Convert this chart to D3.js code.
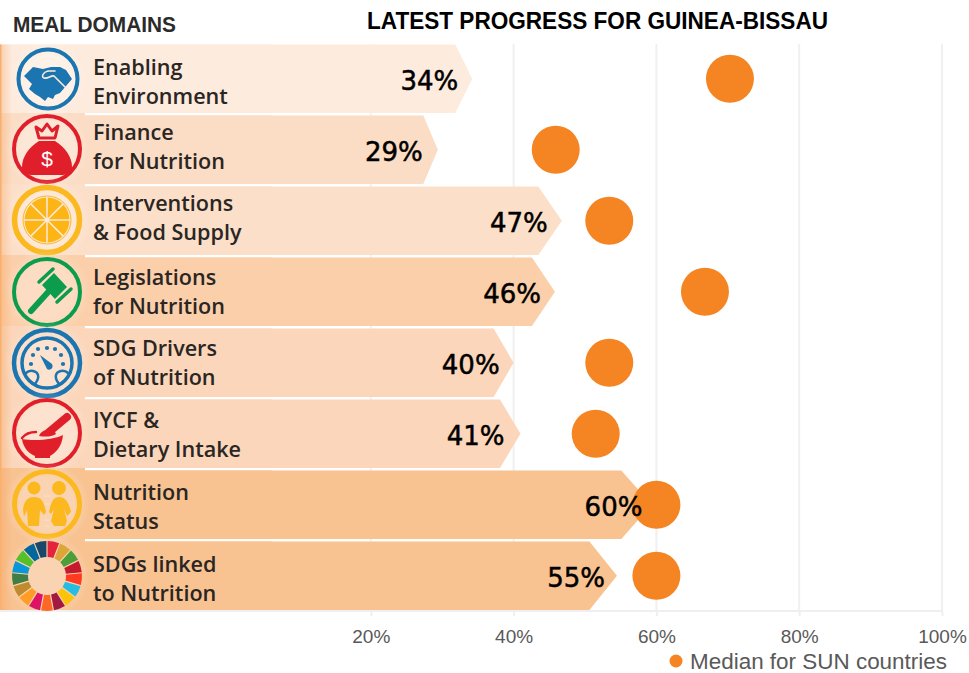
<!DOCTYPE html>
<html>
<head>
<meta charset="utf-8">
<style>
  html, body { margin: 0; padding: 0; background: #fff; }
  svg { display: block; }
  .title { font-family: "Liberation Sans", sans-serif; font-weight: 700; }
  .domain-label { font-family: "Open Sans", sans-serif; font-weight: 600; font-size: 21.6px; fill: #2a2624; }
  .value-label { font-family: "DejaVu Sans", sans-serif; font-size: 26px; fill: #000; stroke: #000; stroke-width: 0.5px; }
  .axis text { font-family: "Liberation Sans", sans-serif; font-size: 19px; fill: #595959; }
  .axis path, .axis line { stroke: #efefef; stroke-width: 2px; }
</style>
</head>
<body>
<div id="chart"></div>
<script src="https://cdn.jsdelivr.net/npm/d3@7"></script>
<script>
// chart values
const domains = ["Enabling Environment", "Finance for Nutrition", "Interventions & Food Supply",
    "Legislations for Nutrition", "SDG Drivers of Nutrition", "IYCF & Dietary Intake",
    "Nutrition Status", "SDGs linked to Nutrition"];
const labelLines = [["Enabling", "Environment"], ["Finance", "for Nutrition"],
    ["Interventions", "& Food Supply"], ["Legislations", "for Nutrition"],
    ["SDG Drivers", "of Nutrition"], ["IYCF &", "Dietary Intake"],
    ["Nutrition", "Status"], ["SDGs linked", "to Nutrition"]];
const progress = [34, 29, 47, 46, 40, 41, 60, 55];
const median = [70.3, 45.9, 53.4, 66.8, 53.4, 51.5, 60, 60];
const axisTicks = [20, 40, 60, 80, 100];

// styling per row
const rowFill = ["#fdebdd", "#fbdcc4", "#fcdfc9", "#fbcfaa", "#fbd6ba", "#fbd6ba", "#f8c291", "#f8c291"];
const labelNudge = [-3.5, -10, -9.5, -7, -7, -6, -5, -4];
const valueNudge = [0, -1, 0, 0, 0, -2, 5, 2];
const sdgColors = ["#e5243b", "#dda63a", "#4c9f38", "#c5192d", "#ff3a21", "#26bde2", "#fcc30b", "#a21942",
    "#fd6925", "#dd1367", "#fd9d24", "#bf8b2e", "#3f7e44", "#0a97d9", "#56c02b", "#00689d", "#19486a"];
const DOT_COLOR = "#f58423";
const PANEL_W = 272, ICON_W = 85;

const width = 969, height = 673;
const svg = d3.select("#chart").append("svg").attr("width", width).attr("height", height);

const x = d3.scaleLinear().domain([0, 100]).range([228, 942]);
// the arrows in the original are stretched a bit and do not sit exactly on the grid
const arrowX = d3.scaleLinear().domain([0, 100]).range([238, 927]);
const y = d3.scaleBand().domain(domains).range([44.5, 610]).paddingInner(0.035);

const defs = svg.append("defs");
const edge = defs.append("linearGradient").attr("id", "edge");
edge.append("stop").attr("offset", 0).attr("stop-color", "#f79a4e").attr("stop-opacity", 0.35);
edge.append("stop").attr("offset", 1).attr("stop-color", "#f79a4e").attr("stop-opacity", 0);
const glow = defs.append("radialGradient").attr("id", "glow");
glow.append("stop").attr("offset", 0.6).attr("stop-color", "#fff").attr("stop-opacity", 0.3);
glow.append("stop").attr("offset", 1).attr("stop-color", "#fff").attr("stop-opacity", 0);

// gridlines and axis
svg.append("g").selectAll("line").data(axisTicks).join("line")
    .attr("x1", d => x(d)).attr("x2", d => x(d))
    .attr("y1", 44).attr("y2", 611)
    .attr("stroke", "#f0f0f0").attr("stroke-width", 2);

svg.append("line").attr("x1", 0).attr("x2", x(100))
    .attr("y1", 611).attr("y2", 611)
    .attr("stroke", "#efefef").attr("stroke-width", 2);

const axis = svg.append("g").attr("class", "axis")
    .attr("transform", "translate(0,611)")
    .call(d3.axisBottom(x).tickValues(axisTicks).tickFormat(d => d + "%").tickSize(5).tickPadding(14));
axis.select(".domain").remove();

// arrow bars
const rows = domains.map((d, i) => ({ name: d, value: progress[i], median: median[i], lines: labelLines[i], i }));

svg.append("g").selectAll("path").data(rows).join("path")
    .attr("fill", d => rowFill[d.i])
    .attr("d", d => {
        const tip = arrowX(d.value), head = d.value * 0.5;
        const top = y(d.name), bot = top + y.bandwidth();
        return d3.line()([[0, top], [tip - head, top], [tip, top + y.bandwidth() / 2], [tip - head, bot], [0, bot]]) + "Z";
    });

// left panel with icons and names
const panel = svg.append("g");
panel.selectAll(".cell").data(rows).join("rect").attr("class", "cell")
    .attr("x", ICON_W).attr("width", PANEL_W - ICON_W)
    .attr("y", d => y(d.name)).attr("height", y.bandwidth())
    .attr("fill", d => rowFill[d.i]);
panel.selectAll(".iconbg").data(rows).join("rect").attr("class", "iconbg")
    .attr("x", 0).attr("width", ICON_W)
    .attr("y", d => y(d.name) - (d.i ? y.step() - y.bandwidth() : 0))
    .attr("height", d => y.bandwidth() + (d.i ? y.step() - y.bandwidth() : 0))
    .attr("fill", d => rowFill[d.i]);
panel.append("rect").attr("x", 0).attr("y", 44.5).attr("width", 12).attr("height", 565.5).attr("fill", "url(#edge)");
panel.append("rect").attr("x", 0).attr("y", 44.5).attr("width", 1.5).attr("height", 565.5).attr("fill", "#f9b06f");

const labels = panel.selectAll(".domain-label").data(rows).join("text")
    .attr("class", "domain-label")
    .attr("x", 93)
    .attr("y", d => y(d.name) + y.bandwidth() / 2 + labelNudge[d.i]);
labels.selectAll("tspan").data(d => d.lines).join("tspan")
    .attr("x", 93).attr("dy", (d, i) => i ? 29 : 0).text(d => d);

// median dots
svg.append("g").selectAll("circle").data(rows).join("circle")
    .attr("cx", d => x(d.median))
    .attr("cy", d => y(d.name) + y.bandwidth() / 2)
    .attr("r", 24)
    .attr("fill", DOT_COLOR);

// value labels, the 60% label stays on top of its dot
svg.append("g").selectAll("text").data(rows).join("text")
    .attr("class", "value-label")
    .attr("text-anchor", "end")
    .attr("x", d => arrowX(d.value) - 14 + valueNudge[d.i])
    .attr("y", d => y(d.name) + y.bandwidth() / 2 + 11.5)
    .text(d => d.value + "%");

// titles
svg.append("text").attr("class", "title").attr("x", 13).attr("y", 32.3)
    .attr("font-size", 21.5).attr("fill", "#2b2b2b")
    .attr("textLength", 163).attr("lengthAdjust", "spacingAndGlyphs").text("MEAL DOMAINS");
svg.append("text").attr("class", "title").attr("x", 367).attr("y", 28.5)
    .attr("font-size", 23).attr("fill", "#000")
    .attr("textLength", 461).attr("lengthAdjust", "spacingAndGlyphs").text("LATEST PROGRESS FOR GUINEA-BISSAU");

// legend
svg.append("circle").attr("cx", 676).attr("cy", 661).attr("r", 6.5).attr("fill", DOT_COLOR);
svg.append("text").attr("class", "title").attr("x", 690).attr("y", 668.5)
    .style("font-weight", 400).attr("font-size", 21.5).attr("fill", "#595959")
    .attr("textLength", 257).attr("lengthAdjust", "spacingAndGlyphs").text("Median for SUN countries");

// icons, drawn in a local frame around each circle centre
const BLUE = "#1b75b0", RED = "#e01f2b", YELLOW = "#fbb91f", GREEN = "#0c9c4e";
const iconPos = [[48, 79, 31.5], [47, 149, 35], [47, 220, 35], [47, 292, 35], [47, 363, 35], [47, 433, 35], [47, 504, 35], [47, 576, 35]];
const icons = iconPos.map(p => {
    svg.append("circle").attr("cx", p[0]).attr("cy", p[1]).attr("r", p[2] + 8).attr("fill", "url(#glow)");
    return svg.append("g").attr("transform", `translate(${p[0]},${p[1]})`);
});
const ring = (g, r, c, w) => g.append("circle").attr("r", r).attr("fill", "none").attr("stroke", c).attr("stroke-width", w);
const fillPath = (g, d, c) => g.append("path").attr("d", d).attr("fill", c);
const linePath = (g, d, c, w) => g.append("path").attr("d", d).attr("fill", "none").attr("stroke", c)
    .attr("stroke-width", w).attr("stroke-linecap", "round").attr("stroke-linejoin", "round");

// handshake
ring(icons[0], 29.5, BLUE, 4);
fillPath(icons[0], "M-24,-3 L-15,-12 L-5,-10 L3,-12 L12,-12 L18,-9 L24,0 L18,7 L12,14 L7,16 L5,20 L0,18 L-3,22 L-8,18 L-13,15 L-19,10 L-16,5 Z", BLUE);
linePath(icons[0], "M7,-8 L0,-8 C-5,-7 -7,-2 -4,-1 C0,0 3,-4 6,-3 L17,8", "#fdebdd", 1.6);

// money bag
ring(icons[1], 33, RED, 4);
fillPath(icons[1], "M-8,-8 C-18,-2 -25,8 -25,18 C-25,24 -20,26 -14,26 L14,26 C20,26 25,24 25,18 C25,8 18,-2 8,-8 Z", RED);
linePath(icons[1], "M-11,-22 L-5,-18 L0,-25 L5,-18 L11,-23 L8,-11 L-8,-11 Z", RED, 3);
icons[1].append("text").attr("text-anchor", "middle").attr("y", 17).attr("font-size", 21)
    .attr("font-family", "Liberation Sans").attr("fill", "#fff").text("$");

// orange slice
ring(icons[2], 32.5, YELLOW, 5.5);
ring(icons[2], 24, YELLOW, 1);
const sliceArc = d3.arc().innerRadius(2).outerRadius(22.5).padAngle(0.07);
d3.pie().value(1).sort(null)(d3.range(8)).forEach(s => {
    const a = { startAngle: s.startAngle, endAngle: s.endAngle, padAngle: 0.07 };
    icons[2].append("path").attr("d", sliceArc(a)).attr("fill", "#fdb515");
});

// gavel
ring(icons[3], 33, GREEN, 4);
linePath(icons[3], "M3,-2 L-16,19", GREEN, 6);
fillPath(icons[3], "M-5,-7 L7,-19 L20,-5 L8,7 Z", GREEN);
linePath(icons[3], "M-8,-10 L6,-23 M10,10 L24,-3", GREEN, 3.5);

// gauge
ring(icons[4], 33, BLUE, 4.5);
ring(icons[4], 25, BLUE, 3.5);
[[-16, 1], [-14, -8], [-9, -14], [0, -15], [8, -14], [14, -8], [16, 1]].forEach(p => {
    icons[4].append("circle").attr("cx", p[0]).attr("cy", p[1]).attr("r", 2.1).attr("fill", BLUE);
});
fillPath(icons[4], "M-7,-8 L5,1 C7,5 3,8 0,6 Z", BLUE);
linePath(icons[4], "M-21,10 C-17,6 -10,8 -9,12 C-8,16 -10,18 -12,21", BLUE, 2.5);
linePath(icons[4], "M21,10 C17,6 10,8 9,12 C8,16 10,18 12,21", BLUE, 2.5);

// mortar and pestle
ring(icons[5], 33, RED, 4);
linePath(icons[5], "M2,-1 L20,-16", RED, 8);
fillPath(icons[5], "M-8,3 C-6,-3 2,-5 7,-3 L9,1 C4,4 -2,4 -8,3 Z", RED);
linePath(icons[5], "M-25,5 C-21,0 -16,-1 -11,-1", RED, 2.5);
fillPath(icons[5], "M-25,6 C-12,8 6,7 16,2 C15,14 8,20 3,23 L3,25 L-12,25 L-12,23 C-19,20 -24,14 -25,6 Z", RED);

// two children
ring(icons[6], 32.5, YELLOW, 5);
linePath(icons[6], "M-3,-8 L3,-8 M-3,0 L3,0 M-2,16 L2,16 M-2,22 L2,22", "#fde3b4", 1);
icons[6].append("circle").attr("cx", -13).attr("cy", -16).attr("r", 6.5).attr("fill", YELLOW);
icons[6].append("circle").attr("cx", 12).attr("cy", -16).attr("r", 7).attr("fill", YELLOW);
fillPath(icons[6], "M-13,-7 C-20,-7 -23,-3 -24,6 L-23,13 L-20,6 L-19,22 L-8,22 L-7,6 L-3,11 L-1,8 C-3,-3 -6,-7 -13,-7 Z", YELLOW);
fillPath(icons[6], "M12,-7 C7,-7 4,-3 2,8 L4,10 L7,5 L4,17 L7,22 L18,22 L20,17 L17,5 L20,12 L24,8 C22,-2 18,-7 12,-7 Z", YELLOW);

// SDG wheel
const wheelArc = d3.arc().innerRadius(19).outerRadius(35).padAngle(0.03);
d3.pie().value(1).sort(null)(sdgColors).forEach((s, i) => {
    icons[7].append("path").attr("d", wheelArc({ startAngle: s.startAngle, endAngle: s.endAngle, padAngle: 0.03 })).attr("fill", sdgColors[i]);
});
</script>
</body>
</html>
